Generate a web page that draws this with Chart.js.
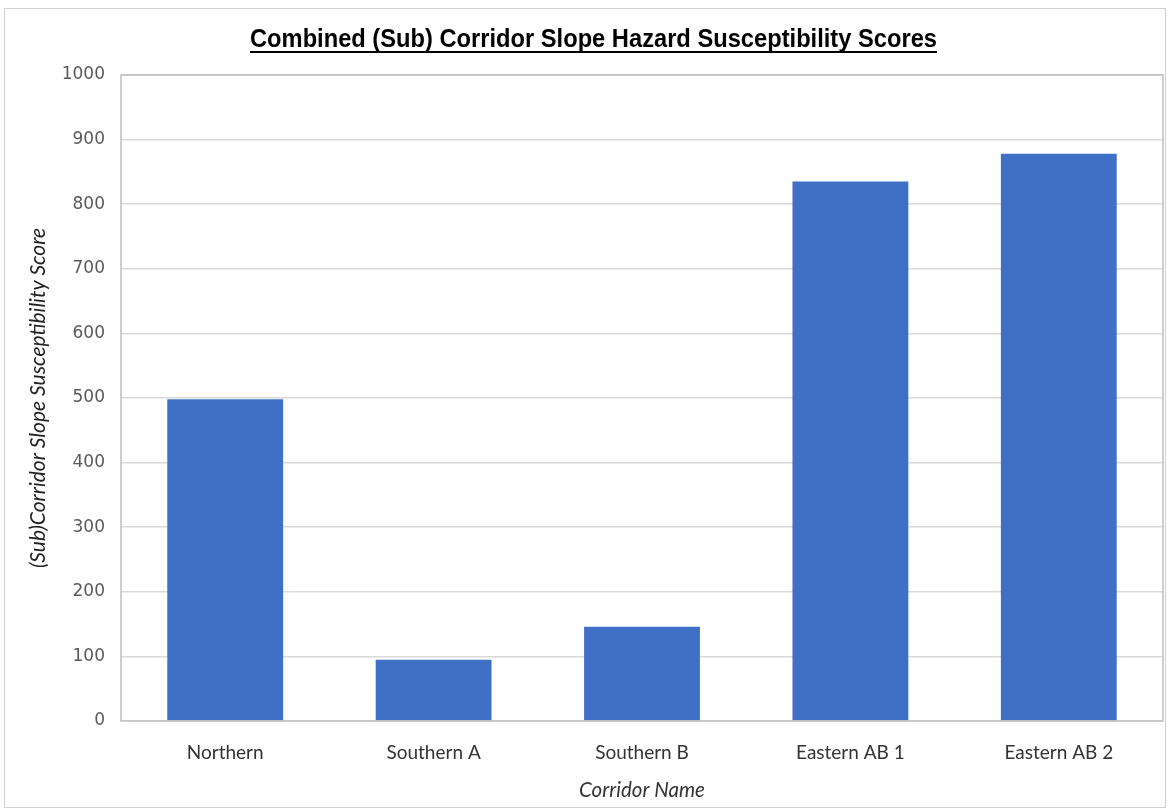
<!DOCTYPE html>
<html>
<head>
<meta charset="utf-8">
<script src="https://cdn.jsdelivr.net/npm/chart.js@4.4.1/dist/chart.umd.min.js"></script>
<style>
html,body{margin:0;padding:0;background:#fff;}
#wrap{position:relative;width:1169px;height:812px;}
</style>
</head>
<body>
<div id="wrap"><canvas id="c" width="1169" height="812"></canvas></div>
<script>
const chartTitle = "Combined (Sub) Corridor Slope Hazard Susceptibility Scores";
const categories = ["Northern", "Southern A", "Southern B", "Eastern AB 1", "Eastern AB 2"];
const scores = [498, 95, 146, 835, 878];
const yTitle = "(Sub)Corridor Slope Susceptibility Score";
const xTitle = "Corridor Name";
const yMin = 0, yMax = 1000, yStep = 100;

const framePlugin = {
  id: 'frame',
  beforeDraw(chart) {
    const ctx = chart.ctx;
    ctx.save();
    ctx.fillStyle = '#fff';
    ctx.fillRect(0, 0, chart.width, chart.height);
    ctx.strokeStyle = '#d0d0d0';
    ctx.lineWidth = 1;
    ctx.strokeRect(4.5, 8.5, 1161, 799);
    ctx.restore();
  },
  afterDatasetsDraw(chart) {
    const ctx = chart.ctx, a = chart.chartArea;
    ctx.save();
    ctx.strokeStyle = '#bfbfbf';
    ctx.lineWidth = 1.5;
    ctx.strokeRect(a.left, a.top, a.right - a.left, a.bottom - a.top);
    ctx.restore();
  },
  afterDraw(chart) {
    const ctx = chart.ctx;
    ctx.save();
    ctx.font = 'bold 26.5px "Liberation Sans", Arial, sans-serif';
    const w = ctx.measureText(chartTitle).width;
    const target = 687;
    const sx = target / w;
    const cx = 593.5;
    ctx.fillStyle = '#000';
    ctx.textAlign = 'center';
    ctx.textBaseline = 'alphabetic';
    ctx.translate(cx, 0);
    ctx.scale(sx, 1);
    ctx.fillText(chartTitle, 0, 47);
    ctx.setTransform(1, 0, 0, 1, 0, 0);
    ctx.fillRect(cx - target / 2, 51, target, 2);
    ctx.restore();
  }
};

new Chart(document.getElementById('c'), {
  type: 'bar',
  data: {
    labels: categories,
    datasets: [{
      data: scores,
      backgroundColor: '#4070C6',
      borderWidth: 0,
      categoryPercentage: 1.0,
      barPercentage: 0.556
    }]
  },
  options: {
    responsive: false,
    animation: false,
    devicePixelRatio: 1,
    layout: { padding: { top: 75, right: 6, bottom: 9, left: 26 } },
    plugins: { legend: { display: false }, tooltip: { enabled: false }, title: { display: false } },
    scales: {
      x: {
        grid: { display: false, drawTicks: false },
        border: { display: false },
        ticks: { color: '#333', font: { family: 'Lato', size: 19 }, padding: 20, maxRotation: 0 },
        title: { display: true, text: xTitle, color: '#333', font: { family: 'Lato', size: 20.5, style: 'italic' }, padding: 0 },
        afterFit(s) { s.height = 82; }
      },
      y: {
        min: yMin, max: yMax,
        grid: { color: '#d9d9d9', lineWidth: 1.5, drawTicks: false },
        border: { display: false },
        ticks: { stepSize: yStep, color: '#595959', font: { family: 'DejaVu Sans', size: 17 }, padding: 16,
                 callback: (v) => String(v) },
        title: { display: true, text: yTitle, color: '#222', font: { family: 'Lato', size: 21, style: 'italic' }, padding: 0 },
        afterFit(s) { s.width = 95; }
      }
    }
  },
  plugins: [framePlugin]
});
</script>
</body>
</html>
